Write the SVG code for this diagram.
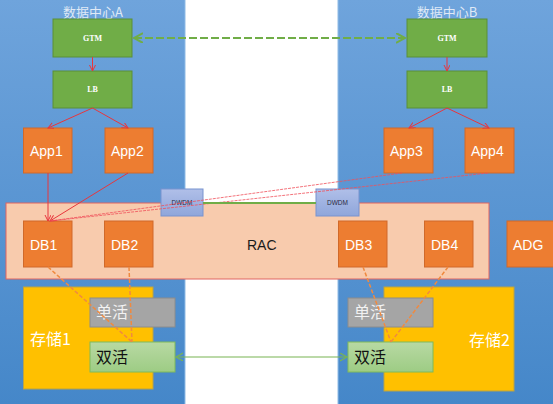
<svg xmlns="http://www.w3.org/2000/svg" width="553" height="404" viewBox="0 0 553 404">
<defs>
<linearGradient id="blue" x1="0" y1="0" x2="0" y2="1">
<stop offset="0" stop-color="#6fa4dc"/>
<stop offset="1" stop-color="#4587c9"/>
</linearGradient>
<linearGradient id="dwdm" x1="0" y1="0" x2="0" y2="1">
<stop offset="0" stop-color="#b0bfe8"/>
<stop offset="1" stop-color="#8fa6db"/>
</linearGradient>
<linearGradient id="sh" x1="0" y1="0" x2="0" y2="1">
<stop offset="0" stop-color="#b8d9a3"/>
<stop offset="1" stop-color="#9dcc84"/>
</linearGradient>
<marker id="arR" markerWidth="8" markerHeight="8" refX="6" refY="3" orient="auto" markerUnits="userSpaceOnUse">
<path d="M0,0 L6,3 L0,6" fill="none" stroke="#e8363c" stroke-width="1"/>
</marker>
<marker id="arG" markerWidth="12" markerHeight="12" refX="9" refY="5" orient="auto-start-reverse" markerUnits="userSpaceOnUse">
<path d="M0,0 L9,5 L0,10" fill="none" stroke="#70ad47" stroke-width="2"/>
</marker>
<marker id="arG2" markerWidth="10" markerHeight="10" refX="7" refY="4" orient="auto-start-reverse" markerUnits="userSpaceOnUse">
<path d="M0,0 L7,4 L0,8" fill="none" stroke="#79b452" stroke-width="1.2"/>
</marker>
</defs>
<style>
.panel{fill:url(#blue);stroke:#8fbbe6;stroke-width:1}
.title{font-family:"Noto Sans CJK SC","Liberation Sans",sans-serif;font-size:13px;fill:#dfe9f6;text-anchor:middle}
.gbox{fill:#70ad47;stroke:#5a8f38;stroke-width:1}
.gtxt{font-family:"Liberation Serif",serif;font-size:8px;font-weight:bold;fill:#ffffff;text-anchor:middle}
.obox{fill:#ed7d31;stroke:#d0692a;stroke-width:1}
.otxt{font-family:"Liberation Sans",sans-serif;font-size:14px;fill:#ffffff}
.dw{fill:url(#dwdm);stroke:#7893cf;stroke-width:1}
.dwt{font-family:"Liberation Sans",sans-serif;font-size:6.5px;fill:#2a2a40;text-anchor:middle}
.stor{fill:#ffc000;stroke:#b9a347;stroke-width:1}
.cjk{font-family:"Noto Sans CJK SC","Liberation Sans",sans-serif;font-size:16px}
.red{stroke:#e8363c;stroke-width:1;fill:none}
.redd{stroke:#f0505a;stroke-width:1;fill:none;stroke-dasharray:3 1;opacity:0.8}
.od{stroke:#f08a40;stroke-width:1.5;fill:none;stroke-dasharray:4 2}
</style>
<rect x="0" y="0" width="553" height="404" fill="#ffffff"/>
<g id="dcA">
<rect class="panel" x="-1" y="-1" width="186" height="406"/>
<text class="title" x="93" y="17">数据中心A</text>
</g>
<g id="dcB">
<rect class="panel" x="338" y="-1" width="216" height="406"/>
<text class="title" x="447" y="17">数据中心B</text>
</g>
<g id="gtmA"><rect class="gbox" x="53" y="19" width="79" height="38"/><text class="gtxt" x="92.5" y="41">GTM</text></g>
<g id="lbA"><rect class="gbox" x="53" y="71" width="79" height="37"/><text class="gtxt" x="92.5" y="92">LB</text></g>
<g id="gtmB"><rect class="gbox" x="407" y="19" width="80" height="38"/><text class="gtxt" x="447" y="41">GTM</text></g>
<g id="lbB"><rect class="gbox" x="407" y="71" width="80" height="37"/><text class="gtxt" x="447" y="92">LB</text></g>
<g id="app1"><rect class="obox" x="23.5" y="128" width="48.5" height="45"/><text class="otxt" x="30" y="156">App1</text></g>
<g id="app2"><rect class="obox" x="105" y="128" width="48" height="45"/><text class="otxt" x="111" y="156">App2</text></g>
<g id="app3"><rect class="obox" x="384" y="128" width="49" height="45"/><text class="otxt" x="390" y="156">App3</text></g>
<g id="app4"><rect class="obox" x="465" y="128" width="49" height="45"/><text class="otxt" x="471" y="156">App4</text></g>
<g id="rac">
<rect x="6" y="203" width="483" height="76" fill="#f8cbad" stroke="#e06460" stroke-width="1"/>
<text x="247" y="250" font-family="Liberation Sans, sans-serif" font-size="14" fill="#1a1a1a">RAC</text>
</g>
<g id="dwdm1"><rect class="dw" x="161" y="189" width="42" height="27"/><text class="dwt" x="182" y="205">DWDM</text></g>
<g id="dwdm2"><rect class="dw" x="316" y="189" width="43" height="27"/><text class="dwt" x="337.5" y="205">DWDM</text></g>
<g id="db1"><rect class="obox" x="23.5" y="221" width="48.5" height="46"/><text class="otxt" x="30" y="250">DB1</text></g>
<g id="db2"><rect class="obox" x="104.5" y="221" width="48.5" height="46"/><text class="otxt" x="111" y="250">DB2</text></g>
<g id="db3"><rect class="obox" x="338.5" y="221" width="48.5" height="46"/><text class="otxt" x="345" y="250">DB3</text></g>
<g id="db4"><rect class="obox" x="424.5" y="221" width="48.5" height="46"/><text class="otxt" x="431" y="250">DB4</text></g>
<g id="adg"><rect class="obox" x="507" y="221" width="50" height="46"/><text class="otxt" x="513" y="250">ADG</text></g>
<g id="stor1"><rect class="stor" x="23.5" y="287" width="129.5" height="102"/><text class="cjk" x="30" y="345" fill="#ffffff">存储1</text></g>
<g id="stor2"><rect class="stor" x="384" y="287" width="130" height="104"/><text class="cjk" x="469" y="346" fill="#ffffff">存储2</text></g>
<g id="single1"><rect x="90" y="298" width="85" height="29" fill="#a5a5a5" stroke="#8c8c8c"/><text class="cjk" x="96" y="318" fill="#f2f2f2">单活</text></g>
<g id="dual1"><rect x="90" y="342" width="85" height="30" fill="url(#sh)" stroke="#7fba5a"/><text class="cjk" x="96" y="363" fill="#111111">双活</text></g>
<g id="single2"><rect x="348" y="298" width="85" height="29" fill="#a5a5a5" stroke="#8c8c8c"/><text class="cjk" x="354" y="318" fill="#f2f2f2">单活</text></g>
<g id="dual2"><rect x="348" y="342" width="85" height="30" fill="url(#sh)" stroke="#7fba5a"/><text class="cjk" x="354" y="363" fill="#111111">双活</text></g>
<g id="connectors">
<line x1="134" y1="38" x2="405" y2="38" stroke="#70ad47" stroke-width="2" stroke-dasharray="8 3" marker-start="url(#arG)" marker-end="url(#arG)"/>
<line class="red" x1="92.5" y1="57" x2="92.5" y2="71" marker-end="url(#arR)"/>
<line class="red" x1="447" y1="57" x2="447" y2="71" marker-end="url(#arR)"/>
<line class="red" x1="92.5" y1="108" x2="48" y2="128" marker-end="url(#arR)"/>
<line class="red" x1="92.5" y1="108" x2="128" y2="128" marker-end="url(#arR)"/>
<line class="red" x1="447" y1="108" x2="409" y2="128" marker-end="url(#arR)"/>
<line class="red" x1="447" y1="108" x2="489" y2="128" marker-end="url(#arR)"/>
<line class="red" x1="48" y1="173" x2="48" y2="221" marker-end="url(#arR)"/>
<line class="red" x1="128" y1="173" x2="50" y2="221" marker-end="url(#arR)"/>
<line class="redd" x1="402" y1="173" x2="50" y2="221"/>
<line class="redd" x1="488" y1="173" x2="50" y2="221"/>
<line x1="203" y1="203" x2="316" y2="203" stroke="#70ad47" stroke-width="2"/>
<line class="od" x1="48" y1="267" x2="132" y2="342"/>
<line class="od" x1="129" y1="267" x2="132" y2="342"/>
<line class="od" x1="363" y1="267" x2="391" y2="342"/>
<line class="od" x1="448" y1="267" x2="391" y2="342"/>
<line x1="176" y1="357" x2="347" y2="357" stroke="#79b452" stroke-width="1.2" marker-start="url(#arG2)" marker-end="url(#arG2)"/>
</g>
</svg>
